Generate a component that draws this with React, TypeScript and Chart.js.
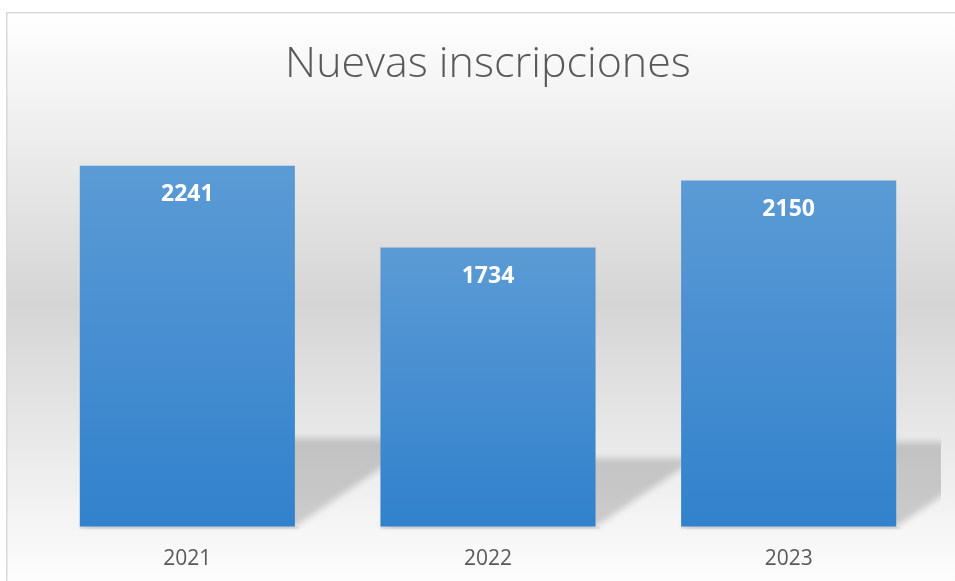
import React, { useEffect, useRef } from "react";
import { Chart, registerables } from "chart.js";

Chart.register(...registerables);

const TITLE = "Nuevas inscripciones";
const categories = ["2021", "2022", "2023"];
const inscripciones = [2241, 1734, 2150];
const yMin = 0;
const yMax = 2500;

const bgPlugin = {
  id: "bgPlugin",
  beforeDraw(chart: any) {
    const ctx = chart.ctx;
    ctx.save();
    const g = ctx.createLinearGradient(0, 13, 0, 595);
    g.addColorStop(0, "#ffffff");
    g.addColorStop(0.5, "#d5d5d5");
    g.addColorStop(1, "#ffffff");
    ctx.fillStyle = g;
    ctx.fillRect(7, 13, chart.width, chart.height);
    ctx.strokeStyle = "#d9d9d9";
    ctx.lineWidth = 1.5;
    ctx.strokeRect(6.75, 12.75, chart.width + 10, chart.height + 10);
    ctx.restore();
  },
};

const shadowPlugin = {
  id: "shadowPlugin",
  beforeDatasetsDraw(chart: any) {
    const ctx = chart.ctx;
    const area = chart.chartArea;
    const meta = chart.getDatasetMeta(0);
    ctx.save();
    ctx.beginPath();
    ctx.rect(area.left - 20, area.top, area.right - area.left + 22, area.bottom - area.top + 4);
    ctx.clip();
    ctx.filter = "blur(3px)";
    ctx.fillStyle = "rgba(0,0,0,0.17)";
    meta.data.forEach((bar: any) => {
      const L = bar.x - bar.width / 2;
      const R = bar.x + bar.width / 2;
      const base = bar.base;
      const h = base - bar.y;
      ctx.beginPath();
      ctx.moveTo(L, base);
      ctx.lineTo(R, base);
      ctx.lineTo(R + 0.36 * h, base - 0.245 * h);
      ctx.lineTo(L + 0.36 * h, base - 0.245 * h);
      ctx.closePath();
      ctx.fill();
    });
    ctx.filter = "none";
    ctx.fillStyle = "rgba(0,0,0,0.08)";
    meta.data.forEach((bar: any) => {
      const L = bar.x - bar.width / 2;
      ctx.fillRect(L, bar.base, bar.width + 4, 2);
    });
    ctx.restore();
  },
};

const labelPlugin = {
  id: "labelPlugin",
  afterDatasetsDraw(chart: any) {
    const ctx = chart.ctx;
    const meta = chart.getDatasetMeta(0);
    ctx.save();
    ctx.fillStyle = "#ffffff";
    ctx.font = "bold 23px 'Open Sans'";
    ctx.textAlign = "center";
    ctx.textBaseline = "middle";
    meta.data.forEach((bar: any, i: number) => {
      ctx.fillText(String(inscripciones[i]), bar.x, bar.y + 29);
    });
    ctx.restore();
  },
};

export default function App() {
  const ref = useRef<HTMLCanvasElement>(null);
  useEffect(() => {
    if (!ref.current) return;
    const chart = new Chart(ref.current, {
      type: "bar",
      data: {
        labels: categories,
        datasets: [
          {
            label: TITLE,
            data: inscripciones,
            barPercentage: 0.7155,
            categoryPercentage: 1,
            borderWidth: 0,
            backgroundColor: (c: any) => {
              const ch = c.chart;
              if (!ch.chartArea || !ch.scales.y) return "#4a8fd2";
              const ys = ch.scales.y;
              const top = ys.getPixelForValue(c.raw);
              const base = ys.getPixelForValue(0);
              const g = ch.ctx.createLinearGradient(0, top, 0, base);
              g.addColorStop(0, "#5b9bd5");
              g.addColorStop(1, "#3181cc");
              return g;
            },
          },
        ],
      },
      options: {
        responsive: false,
        animation: false,
        devicePixelRatio: 1,
        layout: { padding: { left: 37, right: 16, top: 0, bottom: -11 } },
        plugins: {
          legend: { display: false },
          tooltip: { enabled: false },
          title: {
            display: true,
            text: TITLE,
            color: "#595959",
            font: { family: "'Open Sans'", size: 43, weight: "300" as any },
            padding: { top: 39, bottom: 33.4 },
          },
        },
        scales: {
          x: {
            grid: { display: false, drawTicks: false },
            border: { display: false },
            ticks: {
              color: "#595959",
              font: { family: "'Open Sans'", size: 21 },
              padding: 20,
            },
          },
          y: {
            display: false,
            min: yMin,
            max: yMax,
          },
        },
      },
      plugins: [bgPlugin, shadowPlugin, labelPlugin],
    });
    return () => chart.destroy();
  }, []);
  return (
    <div style={{ position: "fixed", left: 0, top: 0, width: 955, height: 581, overflow: "hidden" }}>
      <canvas ref={ref} width={955} height={581} style={{ display: "block" }} />
    </div>
  );
}
